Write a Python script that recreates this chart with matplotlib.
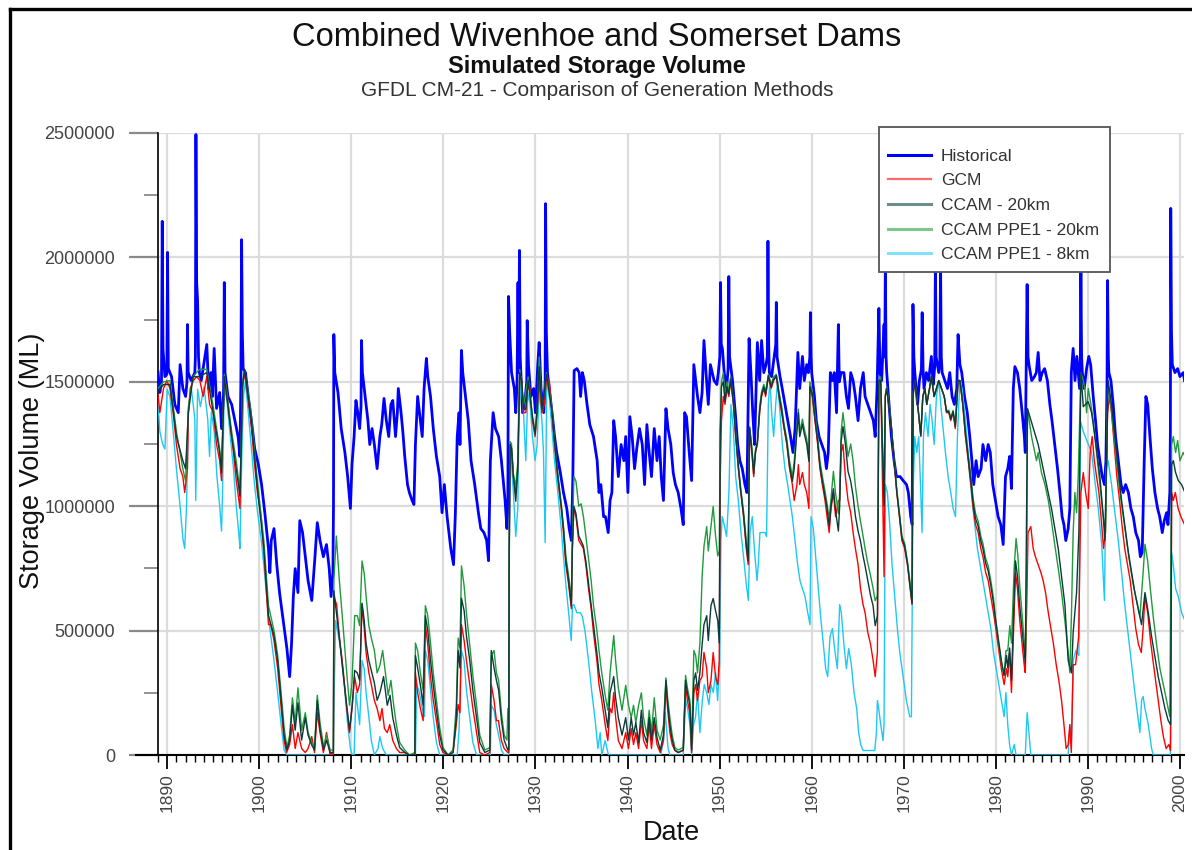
import numpy as np
import matplotlib
matplotlib.use("Agg")
import matplotlib.pyplot as plt
from matplotlib.lines import Line2D
from matplotlib.patches import Rectangle
from matplotlib.ticker import MultipleLocator, FuncFormatter

plt.rcParams['font.family'] = ['Liberation Sans', 'DejaVu Sans']

# ---------------- data (year, storage in thousand ML) ----------------
historical_pts = [
(1889.0,1540),(1889.2,1457),(1889.38,1500),(1889.46,2145),(1889.54,1634),(1889.75,1521),(1889.96,1530),(1890.04,2020),
(1890.12,1553),(1890.47,1521),(1890.83,1409),(1891.2,1376),(1891.4,1569),(1891.7,1473),(1892.0,1441),(1892.15,1500),
(1892.2,1730),(1892.28,1537),(1892.6,1505),(1893.0,1537),(1893.06,1600),(1893.12,2494),(1893.2,1900),(1893.3,1827),
(1893.4,1600),(1893.5,1537),(1893.7,1505),(1894.1,1602),(1894.3,1650),(1894.5,1473),(1894.75,1537),(1894.9,1441),
(1895.1,1634),(1895.36,1393),(1895.7,1457),(1895.9,1312),(1896.12,1450),(1896.2,1899),(1896.28,1537),(1896.6,1441),
(1897.0,1409),(1897.35,1344),(1897.7,1280),(1897.9,1200),(1898.0,1500),(1898.08,2071),(1898.16,1700),(1898.25,1553),
(1898.5,1537),(1898.8,1441),(1899.2,1328),(1899.5,1232),(1899.9,1167),(1900.25,1087),(1900.6,974),(1901.0,830),
(1901.15,733),(1901.3,862),(1901.6,910),(1901.9,765),(1902.2,653),(1902.6,540),(1903.0,428),(1903.3,315),
(1903.5,444),(1903.7,637),(1903.9,749),(1904.2,653),(1904.4,942),(1904.7,894),(1905.0,797),(1905.3,701),
(1905.7,621),(1906.05,797),(1906.3,934),(1906.6,862),(1906.96,797),(1907.3,846),(1907.6,749),(1907.8,637),
(1908.0,733),(1908.06,1000),(1908.1,1690),(1908.2,1537),(1908.55,1457),(1908.9,1312),(1909.3,1216),(1909.6,1119),
(1909.9,991),(1910.07,1167),(1910.3,1280),(1910.5,1425),(1910.7,1376),(1910.9,1312),(1911.05,1400),(1911.1,1666),
(1911.2,1537),(1911.5,1441),(1911.8,1344),(1912.0,1248),(1912.25,1312),(1912.5,1248),(1912.8,1151),(1913.1,1280),
(1913.3,1328),(1913.55,1433),(1913.8,1344),(1914.06,1280),(1914.3,1409),(1914.5,1425),(1914.8,1280),(1915.0,1376),
(1915.1,1473),(1915.4,1376),(1915.6,1296),(1915.8,1200),(1916.1,1087),(1916.3,1055),(1916.6,1023),(1916.8,1007),
(1916.96,1248),(1917.2,1441),(1917.4,1376),(1917.7,1280),(1917.9,1473),(1918.15,1594),(1918.3,1521),(1918.6,1441),
(1918.9,1312),(1919.24,1200),(1919.6,1119),(1919.85,974),(1920.1,1087),(1920.4,958),(1920.8,830),(1921.1,765),
(1921.3,974),(1921.5,1280),(1921.7,1376),(1921.8,1248),(1921.96,1626),(1922.1,1537),(1922.4,1441),(1922.7,1344),
(1923.0,1183),(1923.4,1087),(1923.8,974),(1924.06,910),(1924.4,894),(1924.7,862),(1924.9,781),(1925.1,1183),
(1925.4,1376),(1925.65,1312),(1926.0,1280),(1926.3,1183),(1926.7,1023),(1926.9,910),(1927.0,1000),(1927.07,1843),
(1927.2,1698),(1927.4,1537),(1927.7,1473),(1927.86,1376),(1928.0,1500),(1928.1,1899),(1928.18,1537),(1928.26,2028),
(1928.34,1600),(1928.6,1376),(1928.9,1441),(1929.05,1500),(1929.1,1746),(1929.24,1569),(1929.5,1441),(1929.8,1473),
(1930.0,1376),(1930.25,1569),(1930.4,1658),(1930.6,1473),(1930.9,1376),(1931.05,1500),(1931.1,2216),(1931.18,1700),
(1931.3,1537),(1931.5,1473),(1931.8,1376),(1932.07,1280),(1932.3,1216),(1932.7,1135),(1933.04,1055),(1933.4,991),
(1933.66,910),(1933.9,862),(1934.06,1119),(1934.2,1545),(1934.5,1553),(1934.75,1537),(1934.9,1441),(1935.1,1537),
(1935.3,1505),(1935.6,1409),(1935.9,1328),(1936.3,1280),(1936.7,1183),(1936.9,1055),(1937.1,1087),(1937.4,958),
(1937.6,958),(1937.9,894),(1938.1,1023),(1938.3,1055),(1938.5,1344),(1938.7,1280),(1939.0,1119),(1939.3,1248),
(1939.6,1183),(1939.8,1280),(1940.04,1055),(1940.25,1360),(1940.5,1280),(1940.76,1151),(1941.0,1232),(1941.3,1312),
(1941.6,1248),(1941.85,1087),(1942.1,1328),(1942.35,1216),(1942.6,1119),(1942.9,1312),(1943.2,1183),(1943.44,1280),
(1943.66,1119),(1943.9,1023),(1944.17,1392),(1944.4,1312),(1944.7,1248),(1944.96,1135),(1945.2,1087),(1945.5,1055),
(1945.8,991),(1946.05,926),(1946.2,1376),(1946.4,1360),(1946.7,1216),(1946.96,1103),(1947.2,1569),(1947.4,1505),
(1947.6,1441),(1947.86,1376),(1948.1,1457),(1948.3,1666),(1948.55,1521),(1948.77,1409),(1949.0,1569),(1949.2,1537),
(1949.4,1505),(1949.7,1489),(1949.86,1537),(1950.02,1600),(1950.1,1899),(1950.18,1650),(1950.3,1634),(1950.5,1537),
(1950.76,1473),(1950.92,1550),(1951.0,1923),(1951.08,1600),(1951.4,1505),(1951.7,1376),(1951.96,1248),(1952.2,1183),
(1952.46,1151),(1952.75,1087),(1952.97,1055),(1953.2,1674),(1953.4,1537),(1953.6,1376),(1953.8,1248),(1954.1,1658),
(1954.35,1505),(1954.56,1666),(1954.8,1537),(1955.04,1569),(1955.18,1600),(1955.25,2065),(1955.33,1650),(1955.4,1537),
(1955.65,1521),(1955.94,1602),(1956.1,1650),(1956.16,1819),(1956.24,1600),(1956.56,1521),(1956.8,1473),(1957.1,1409),
(1957.4,1344),(1957.7,1280),(1957.97,1216),(1958.2,1312),(1958.5,1618),(1958.7,1473),(1959.0,1602),(1959.2,1505),
(1959.46,1569),(1959.64,1537),(1959.8,1600),(1959.86,1778),(1959.94,1600),(1960.0,1537),(1960.3,1441),(1960.5,1344),
(1960.8,1280),(1961.1,1248),(1961.4,1216),(1961.6,1151),(1961.8,1216),(1962.03,1537),(1962.25,1505),(1962.46,1537),
(1962.7,1376),(1962.9,1730),(1963.0,1500),(1963.2,1537),(1963.5,1537),(1963.77,1441),(1964.0,1393),(1964.24,1537),
(1964.5,1505),(1964.75,1441),(1965.04,1344),(1965.3,1473),(1965.6,1537),(1965.8,1441),(1966.1,1409),(1966.4,1376),
(1966.7,1344),(1966.9,1280),(1967.1,1473),(1967.3,1795),(1967.42,1537),(1967.6,1505),(1967.86,1730),(1967.94,1600),
(1968.0,1971),(1968.08,1600),(1968.15,1537),(1968.4,1409),(1968.66,1280),(1968.95,1183),(1969.2,1119),(1969.6,1119),
(1969.93,1103),(1970.3,1087),(1970.5,1055),(1970.76,958),(1970.92,926),(1971.0,1811),(1971.1,1600),(1971.2,1537),
(1971.5,1409),(1971.7,1505),(1971.92,1550),(1972.0,1778),(1972.1,1550),(1972.2,1473),(1972.46,1537),(1972.7,1505),
(1973.0,1602),(1973.2,1489),(1973.36,1560),(1973.44,1971),(1973.52,1600),(1973.8,1537),(1973.92,1580),(1974.0,1971),
(1974.08,1600),(1974.17,1537),(1974.46,1505),(1974.75,1473),(1975.0,1537),(1975.25,1441),(1975.5,1409),(1975.76,1473),
(1975.9,1690),(1976.1,1569),(1976.3,1537),(1976.6,1441),(1976.9,1376),(1977.17,1280),(1977.4,1183),(1977.6,1087),
(1977.86,1183),(1978.08,1119),(1978.4,1151),(1978.6,1248),(1978.9,1183),(1979.17,1248),(1979.4,1216),(1979.67,1087),
(1979.96,1023),(1980.25,958),(1980.54,926),(1980.8,846),(1981.05,1119),(1981.3,1151),(1981.5,1200),(1981.7,1071),
(1981.9,1473),(1982.07,1561),(1982.35,1537),(1982.6,1473),(1982.86,1376),(1983.1,1280),(1983.2,1216),(1983.3,1537),
(1983.4,1891),(1983.5,1600),(1983.6,1569),(1983.9,1505),(1984.2,1521),(1984.4,1537),(1984.6,1618),(1984.8,1505),
(1985.04,1537),(1985.3,1553),(1985.6,1505),(1985.87,1409),(1986.1,1344),(1986.4,1248),(1986.7,1151),(1986.96,1055),
(1987.2,958),(1987.4,926),(1987.6,862),(1987.86,910),(1988.04,991),(1988.2,1537),(1988.4,1634),(1988.6,1505),
(1988.8,1602),(1988.95,1537),(1989.1,1473),(1989.18,1600),(1989.24,1939),(1989.32,1600),(1989.4,1537),(1989.6,1473),
(1989.86,1553),(1990.1,1602),(1990.3,1569),(1990.58,1441),(1990.83,1344),(1991.05,1248),(1991.3,1183),(1991.56,1119),
(1991.8,1087),(1991.96,1183),(1992.08,1500),(1992.14,1907),(1992.22,1600),(1992.28,1537),(1992.5,1505),(1992.75,1409),
(1993.0,1280),(1993.3,1183),(1993.6,1087),(1993.84,1055),(1994.1,1087),(1994.4,1055),(1994.67,991),(1994.93,958),
(1995.2,894),(1995.5,862),(1995.7,797),(1995.9,814),(1996.12,1183),(1996.3,1441),(1996.5,1409),(1996.74,1280),
(1997.0,1151),(1997.28,1055),(1997.57,991),(1997.8,958),(1998.08,894),(1998.3,942),(1998.55,974),(1998.7,926),
(1998.9,1055),(1998.96,1300),(1999.0,2197),(1999.08,1700),(1999.17,1569),(1999.46,1537),(1999.75,1553),(2000.0,1521),
(2000.36,1537),(2000.5,1505),
]

gcm_pts = [
(1889.0,1450),(1889.2,1376),(1889.6,1473),(1889.96,1505),(1890.3,1473),(1890.65,1376),(1891.0,1248),(1891.4,1151),
(1891.7,1119),(1891.9,1055),(1892.2,1151),(1892.3,1376),(1892.5,1473),(1892.85,1505),(1893.2,1521),(1893.55,1505),
(1893.9,1441),(1894.3,1521),(1894.6,1409),(1895.0,1376),(1895.36,1248),(1895.7,1183),(1895.9,1103),(1896.2,1521),
(1896.5,1457),(1896.8,1344),(1897.2,1216),(1897.5,1103),(1897.9,991),(1898.15,1473),(1898.4,1537),(1898.7,1457),
(1899.1,1344),(1899.45,1183),(1899.8,1055),(1900.2,958),(1900.5,814),(1901.0,524),(1901.25,524),(1901.6,460),
(1902.0,347),(1902.35,203),(1902.7,58),(1902.97,10),(1903.3,42),(1903.6,122),(1903.9,26),(1904.2,90),
(1904.6,26),(1905.0,10),(1905.3,26),(1905.7,74),(1906.0,10),(1906.3,170),(1906.6,90),(1906.96,10),
(1907.3,90),(1907.46,58),(1907.7,0),(1907.8,10),(1908.05,0),(1908.1,637),(1908.4,605),(1908.7,476),
(1909.1,347),(1909.46,203),(1909.8,90),(1910.07,187),(1910.36,315),(1910.65,251),(1910.9,283),(1911.16,605),
(1911.4,508),(1911.6,412),(1911.9,331),(1912.17,283),(1912.5,219),(1912.8,187),(1913.1,138),(1913.33,187),
(1913.6,106),(1913.9,90),(1914.17,122),(1914.5,58),(1914.9,26),(1915.25,10),(1915.8,10),(1916.3,0),
(1916.9,0),(1916.96,331),(1917.2,251),(1917.5,187),(1917.8,138),(1918.04,524),(1918.3,444),(1918.6,315),
(1918.9,219),(1919.24,138),(1919.6,42),(1919.96,10),(1920.5,0),(1921.05,10),(1921.4,122),(1921.6,203),
(1921.8,170),(1921.96,524),(1922.25,460),(1922.5,380),(1922.86,283),(1923.2,187),(1923.6,90),(1923.95,10),
(1924.5,0),(1925.04,10),(1925.2,283),(1925.5,219),(1925.76,138),(1925.98,138),(1926.3,58),(1926.6,26),
(1927.0,10),(1927.1,10),(1927.14,765),(1927.25,1248),(1927.4,1232),(1927.6,1119),(1927.86,1055),(1928.08,1151),
(1928.2,1441),(1928.3,1537),(1928.5,1505),(1928.7,1376),(1928.95,1376),(1929.2,1505),(1929.4,1473),(1929.67,1344),
(1929.96,1280),(1930.18,1376),(1930.4,1505),(1930.7,1376),(1930.98,1409),(1931.2,1521),(1931.5,1505),(1931.8,1376),
(1932.07,1248),(1932.4,1119),(1932.8,991),(1933.04,894),(1933.3,765),(1933.6,685),(1933.9,588),(1934.0,814),
(1934.17,991),(1934.4,958),(1934.7,862),(1934.96,846),(1935.2,830),(1935.47,765),(1935.76,669),(1936.05,588),
(1936.3,492),(1936.67,380),(1936.9,283),(1937.2,219),(1937.57,122),(1937.86,58),(1938.1,187),(1938.3,170),
(1938.5,251),(1938.7,154),(1939.0,58),(1939.4,26),(1939.8,90),(1940.1,26),(1940.4,106),(1940.65,42),
(1940.9,90),(1941.2,26),(1941.5,138),(1941.74,58),(1942.1,26),(1942.35,122),(1942.6,26),(1942.9,122),
(1943.2,42),(1943.55,10),(1943.9,58),(1944.17,283),(1944.35,187),(1944.6,90),(1944.85,42),(1945.14,18),
(1945.5,10),(1946.05,18),(1946.3,283),(1946.5,219),(1946.77,170),(1946.96,10),(1947.2,251),(1947.4,283),
(1947.6,219),(1947.86,299),(1948.1,315),(1948.3,412),(1948.6,347),(1948.77,251),(1949.06,299),(1949.3,412),
(1949.56,315),(1949.8,283),(1949.96,380),(1950.07,1119),(1950.2,1344),(1950.4,1441),(1950.58,1409),(1950.8,1473),
(1951.0,1441),(1951.2,1505),(1951.5,1409),(1951.74,1280),(1952.03,1151),(1952.3,1055),(1952.6,958),(1952.9,830),
(1953.1,765),(1953.26,1312),(1953.5,1216),(1953.7,1119),(1953.9,1216),(1954.1,1248),(1954.35,1376),(1954.56,1441),
(1954.8,1473),(1955.0,1441),(1955.3,1521),(1955.6,1473),(1955.87,1505),(1956.16,1521),(1956.45,1441),(1956.74,1376),
(1957.0,1312),(1957.3,1248),(1957.6,1151),(1957.9,1087),(1958.1,1023),(1958.4,1087),(1958.55,1167),(1958.7,1087),
(1959.0,1135),(1959.2,1087),(1959.46,1055),(1959.7,991),(1959.8,1473),(1960.07,1441),(1960.36,1344),(1960.65,1248),
(1960.9,1151),(1961.16,1087),(1961.45,1023),(1961.67,958),(1961.9,894),(1962.1,991),(1962.36,1055),(1962.6,958),
(1962.9,1023),(1963.04,1023),(1963.2,1216),(1963.4,1248),(1963.66,1119),(1963.95,1023),(1964.24,974),(1964.5,894),
(1964.75,830),(1965.04,765),(1965.3,669),(1965.58,605),(1965.8,572),(1966.1,492),(1966.4,444),(1966.67,380),
(1966.9,315),(1967.14,412),(1967.3,1505),(1967.5,1505),(1967.64,1216),(1967.86,717),(1968.0,1441),(1968.15,1473),
(1968.37,1409),(1968.66,1312),(1968.95,1183),(1969.24,1055),(1969.53,958),(1969.8,862),(1970.1,830),(1970.4,765),
(1970.7,669),(1970.9,605),(1971.0,1441),(1971.2,1505),(1971.4,1441),(1971.6,1376),(1971.85,1280),(1972.07,1441),
(1972.3,1473),(1972.5,1409),(1972.8,1473),(1973.0,1521),(1973.3,1441),(1973.55,1473),(1973.8,1505),(1974.1,1473),
(1974.4,1441),(1974.64,1376),(1974.9,1376),(1975.1,1344),(1975.36,1376),(1975.6,1312),(1975.9,1505),(1976.1,1505),
(1976.4,1409),(1976.7,1280),(1977.0,1183),(1977.3,1087),(1977.54,991),(1977.8,926),(1978.08,894),(1978.37,830),
(1978.6,797),(1978.9,733),(1979.17,701),(1979.46,637),(1979.75,572),(1980.0,508),(1980.3,428),(1980.6,347),
(1980.9,283),(1981.16,347),(1981.3,315),(1981.5,412),(1981.7,251),(1982.0,572),(1982.14,733),(1982.35,669),
(1982.6,540),(1982.86,444),(1983.08,363),(1983.2,331),(1983.36,605),(1983.5,894),(1983.8,918),(1984.06,830),
(1984.3,797),(1984.6,765),(1984.9,733),(1985.14,701),(1985.4,653),(1985.7,572),(1985.98,508),(1986.27,444),
(1986.56,363),(1986.85,299),(1987.14,219),(1987.4,122),(1987.64,26),(1987.86,42),(1988.04,122),(1988.2,10),
(1988.4,363),(1988.66,363),(1989.0,476),(1989.24,1055),(1989.5,1135),(1989.75,1055),(1990.04,991),(1990.25,1216),
(1990.47,1280),(1990.7,1183),(1990.94,1119),(1991.2,1055),(1991.5,926),(1991.7,830),(1991.9,894),(1992.14,1376),
(1992.36,1441),(1992.57,1376),(1992.86,1248),(1993.15,1119),(1993.44,1023),(1993.7,926),(1994.0,830),(1994.3,765),
(1994.6,701),(1994.9,605),(1995.2,508),(1995.5,444),(1995.8,412),(1996.0,508),(1996.2,637),(1996.5,572),
(1996.8,460),(1997.07,380),(1997.36,299),(1997.65,219),(1997.93,138),(1998.2,74),(1998.5,26),(1998.8,42),
(1998.98,18),(1999.1,1055),(1999.27,1023),(1999.5,1055),(1999.8,991),(2000.1,958),(2000.5,926),
]

ccam20_pts = [
(1889.0,1460),(1889.6,1489),(1890.3,1489),(1891.0,1280),(1891.7,1183),(1892.0,1150),(1892.3,1376),(1892.8,1521),
(1893.5,1521),(1894.3,1537),(1895.0,1376),(1895.7,1215),(1895.9,1135),(1896.2,1521),(1897.0,1280),(1897.5,1151),
(1897.9,1040),(1898.2,1489),(1898.4,1550),(1899.1,1360),(1899.8,1071),(1900.5,830),(1901.0,560),(1901.6,480),
(1902.0,380),(1902.35,230),(1902.7,80),(1903.0,20),(1903.3,60),(1903.6,200),(1903.9,100),(1904.2,210),
(1904.6,60),(1905.0,150),(1905.3,80),(1905.7,40),(1906.0,20),(1906.3,220),(1906.6,100),(1907.0,20),
(1907.3,60),(1907.7,10),(1908.05,10),(1908.1,660),(1908.7,470),(1909.1,330),(1909.5,200),(1909.8,100),
(1910.1,200),(1910.36,340),(1910.65,330),(1910.9,300),(1911.16,610),(1911.4,540),(1911.6,450),(1911.9,380),
(1912.17,340),(1912.5,290),(1912.8,220),(1913.1,250),(1913.5,315),(1913.9,200),(1914.2,240),(1914.5,150),
(1914.9,80),(1915.25,30),(1915.8,10),(1916.3,0),(1916.9,0),(1916.96,400),(1917.2,350),(1917.5,280),
(1917.8,200),(1918.04,560),(1918.3,500),(1918.6,380),(1918.9,280),(1919.24,180),(1919.6,80),(1919.96,20),
(1920.5,0),(1921.05,10),(1921.4,150),(1921.6,420),(1921.8,350),(1921.96,630),(1922.25,580),(1922.5,480),
(1922.86,380),(1923.2,260),(1923.6,150),(1923.95,50),(1924.5,10),(1925.04,20),(1925.2,420),(1925.5,350),
(1925.76,300),(1926.0,260),(1926.3,140),(1926.6,60),(1927.0,20),(1927.1,20),(1927.14,800),(1927.25,1248),
(1927.4,1232),(1927.6,1119),(1927.86,1020),(1928.08,1151),(1928.3,1537),(1928.5,1505),(1928.7,1390),(1928.95,1390),
(1929.2,1505),(1929.67,1360),(1929.96,1290),(1930.18,1390),(1930.4,1560),(1930.7,1390),(1931.2,1530),(1931.8,1380),
(1932.07,1260),(1932.4,1130),(1932.8,1000),(1933.04,910),(1933.3,780),(1933.6,700),(1933.9,600),(1934.0,830),
(1934.17,1000),(1934.4,970),(1934.7,880),(1934.96,860),(1935.2,840),(1935.47,780),(1935.76,690),(1936.05,600),
(1936.3,520),(1936.67,410),(1936.9,330),(1937.2,270),(1937.57,180),(1937.86,110),(1938.1,250),(1938.5,315),
(1938.7,230),(1939.0,150),(1939.4,80),(1939.8,150),(1940.1,60),(1940.4,150),(1940.65,80),(1940.9,130),
(1941.2,50),(1941.5,180),(1941.74,90),(1942.1,50),(1942.35,150),(1942.6,60),(1942.9,150),(1943.2,70),
(1943.55,20),(1943.9,80),(1944.17,300),(1944.35,210),(1944.6,120),(1944.85,60),(1945.14,20),(1945.5,10),
(1946.05,20),(1946.3,300),(1946.5,250),(1946.77,200),(1946.96,20),(1947.2,300),(1947.4,330),(1947.6,260),
(1947.86,330),(1948.1,444),(1948.3,524),(1948.6,560),(1948.77,460),(1949.06,600),(1949.3,629),(1949.56,580),
(1949.8,540),(1949.96,450),(1950.07,1300),(1950.2,1480),(1950.4,1500),(1950.58,1420),(1950.8,1480),(1951.0,1450),
(1951.2,1510),(1951.5,1415),(1951.74,1290),(1952.03,1160),(1952.3,1060),(1952.6,965),(1952.9,840),(1953.1,780),
(1953.26,1315),(1953.5,1225),(1953.7,1130),(1953.9,1220),(1954.1,1255),(1954.35,1385),(1954.56,1450),(1954.8,1480),
(1955.0,1450),(1955.3,1525),(1955.6,1480),(1955.87,1510),(1956.16,1525),(1956.45,1450),(1956.74,1385),(1957.0,1320),
(1957.3,1255),(1957.6,1160),(1957.9,1100),(1958.1,1150),(1958.4,1300),(1958.55,1376),(1958.7,1280),(1959.0,1330),
(1959.2,1290),(1959.46,1250),(1959.7,1180),(1959.8,1480),(1960.07,1450),(1960.36,1350),(1960.65,1260),(1960.9,1160),
(1961.16,1100),(1961.45,1040),(1961.67,990),(1961.9,920),(1962.1,1000),(1962.36,1070),(1962.6,980),(1962.9,900),
(1963.04,1000),(1963.2,1260),(1963.4,1320),(1963.66,1250),(1963.95,1140),(1964.24,1100),(1964.5,1040),(1964.75,960),
(1965.04,900),(1965.3,860),(1965.58,800),(1965.8,760),(1966.1,700),(1966.4,640),(1966.67,600),(1966.9,520),
(1967.14,560),(1967.3,1505),(1967.5,1505),(1967.64,1300),(1967.86,1000),(1968.0,1441),(1968.15,1473),(1968.37,1409),
(1968.66,1315),(1968.95,1190),(1969.24,1060),(1969.53,965),(1969.8,870),(1970.1,840),(1970.4,770),(1970.7,675),
(1970.9,610),(1971.0,1441),(1971.2,1505),(1971.4,1441),(1971.6,1376),(1971.85,1285),(1972.07,1441),(1972.3,1473),
(1972.5,1409),(1972.8,1473),(1973.0,1521),(1973.3,1441),(1973.55,1473),(1973.8,1505),(1974.1,1473),(1974.4,1441),
(1974.64,1380),(1974.9,1380),(1975.1,1350),(1975.36,1380),(1975.6,1320),(1975.9,1505),(1976.1,1505),(1976.4,1415),
(1976.7,1290),(1977.0,1195),(1977.3,1100),(1977.54,1010),(1977.8,950),(1978.08,920),(1978.37,860),(1978.6,830),
(1978.9,770),(1979.17,740),(1979.46,680),(1979.75,610),(1980.0,540),(1980.3,460),(1980.6,380),(1980.9,320),
(1981.16,400),(1981.3,350),(1981.5,430),(1981.7,300),(1982.0,640),(1982.14,780),(1982.35,720),(1982.6,600),
(1982.86,500),(1983.08,420),(1983.2,370),(1983.44,1392),(1984.6,1248),(1985.33,1119),(1986.05,990),(1986.78,830),
(1987.5,605),(1987.86,380),(1988.22,330),(1988.4,492),(1988.77,653),(1989.02,894),(1989.24,1537),(1989.5,1400),
(1990.04,1420),(1990.4,1376),(1990.76,1280),(1991.3,1120),(1991.67,958),(1991.85,862),(1992.2,1505),(1992.57,1409),
(1992.93,1280),(1993.3,1151),(1993.66,1023),(1994.0,926),(1994.4,814),(1994.75,733),(1995.1,653),(1995.47,588),
(1995.83,524),(1996.2,653),(1996.56,572),(1996.92,476),(1997.28,396),(1997.64,315),(1998.0,251),(1998.37,187),
(1998.73,138),(1998.99,122),(1999.1,1167),(1999.28,1183),(1999.53,1135),(1999.82,1103),(2000.18,1087),(2000.54,1055),
]

ppe1_20_pts = [
(1889.0,1473),(1889.6,1500),(1890.3,1505),(1891.0,1300),(1891.7,1150),(1892.0,1100),(1892.3,1400),(1892.8,1521),
(1893.5,1550),(1894.3,1550),(1895.0,1400),(1895.7,1230),(1895.9,1150),(1896.2,1530),(1897.0,1300),(1897.5,1180),
(1897.9,1060),(1898.2,1500),(1898.4,1550),(1899.1,1380),(1899.8,1100),(1900.5,860),(1901.0,600),(1901.6,500),
(1902.0,400),(1902.35,260),(1902.7,110),(1903.0,30),(1903.3,80),(1903.6,230),(1903.9,130),(1904.2,270),
(1904.6,100),(1905.0,170),(1905.3,90),(1905.7,50),(1906.0,30),(1906.3,240),(1906.6,130),(1907.0,30),
(1907.3,80),(1907.7,20),(1908.05,20),(1908.1,700),(1908.37,880),(1908.7,700),(1909.1,520),(1909.5,330),
(1909.8,200),(1910.07,290),(1910.36,560),(1910.65,560),(1910.9,520),(1911.16,780),(1911.4,730),(1911.6,640),
(1911.9,520),(1912.17,470),(1912.5,420),(1912.8,330),(1913.1,360),(1913.4,420),(1913.7,330),(1914.0,240),
(1914.3,300),(1914.6,200),(1914.9,120),(1915.25,50),(1915.8,20),(1916.3,0),(1916.9,10),(1916.96,450),
(1917.2,420),(1917.5,330),(1917.8,260),(1918.04,600),(1918.3,560),(1918.6,450),(1918.9,330),(1919.24,220),
(1919.6,110),(1919.96,30),(1920.5,0),(1921.05,20),(1921.4,200),(1921.6,470),(1921.8,430),(1921.96,760),
(1922.25,680),(1922.5,570),(1922.86,440),(1923.2,320),(1923.6,200),(1923.95,80),(1924.5,20),(1925.04,30),
(1925.2,400),(1925.5,420),(1925.76,330),(1926.0,300),(1926.3,170),(1926.6,80),(1926.9,60),(1927.0,187),
(1927.1,100),(1927.14,850),(1927.25,1260),(1927.4,1250),(1927.6,1130),(1927.86,1080),(1928.08,1180),(1928.3,1550),
(1928.7,1400),(1929.2,1520),(1929.67,1360),(1929.96,1290),(1930.18,1390),(1930.4,1600),(1930.7,1390),(1931.2,1537),
(1931.8,1390),(1932.07,1260),(1932.4,1140),(1932.8,1010),(1933.04,920),(1933.3,800),(1933.6,720),(1933.9,630),
(1934.0,860),(1934.17,1120),(1934.4,1100),(1934.7,1000),(1934.96,1010),(1935.2,960),(1935.47,880),(1935.76,790),
(1936.05,700),(1936.3,600),(1936.67,500),(1936.9,420),(1937.2,330),(1937.57,240),(1937.86,180),(1938.1,330),
(1938.5,480),(1938.7,380),(1939.0,270),(1939.4,180),(1939.8,280),(1940.1,200),(1940.4,150),(1940.65,200),
(1940.9,130),(1941.2,200),(1941.5,250),(1941.74,150),(1942.1,80),(1942.35,180),(1942.6,90),(1942.9,230),
(1943.2,100),(1943.55,60),(1943.9,120),(1944.17,310),(1944.35,230),(1944.6,150),(1944.85,80),(1945.14,30),
(1945.5,20),(1946.05,30),(1946.3,320),(1946.5,270),(1946.77,220),(1946.96,40),(1947.2,420),(1947.4,400),
(1947.6,330),(1947.86,450),(1948.1,717),(1948.3,838),(1948.6,918),(1948.77,820),(1949.06,920),(1949.3,999),
(1949.56,880),(1949.8,800),(1949.96,820),(1950.07,1300),(1950.2,1500),(1950.4,1537),(1950.58,1440),(1950.8,1500),
(1951.0,1460),(1951.2,1520),(1951.5,1420),(1951.74,1300),(1952.03,1170),(1952.3,1070),(1952.6,980),(1952.9,860),
(1953.1,800),(1953.26,1320),(1953.5,1240),(1953.7,1150),(1953.9,1230),(1954.1,1260),(1954.35,1400),(1954.56,1460),
(1954.8,1490),(1955.0,1460),(1955.3,1530),(1955.6,1490),(1955.87,1520),(1956.16,1530),(1956.45,1460),(1956.74,1400),
(1957.0,1330),(1957.3,1270),(1957.6,1180),(1957.9,1120),(1958.1,1180),(1958.4,1320),(1958.55,1390),(1958.7,1300),
(1959.0,1350),(1959.2,1310),(1959.46,1270),(1959.7,1200),(1959.8,1500),(1960.07,1460),(1960.36,1370),(1960.65,1280),
(1960.9,1180),(1961.16,1120),(1961.45,1060),(1961.67,1010),(1961.9,950),(1962.1,1030),(1962.36,1140),(1962.6,1050),
(1962.9,970),(1963.04,1050),(1963.2,1300),(1963.4,1376),(1963.66,1290),(1963.95,1200),(1964.24,1250),(1964.5,1180),
(1964.75,1080),(1965.04,1000),(1965.3,940),(1965.58,880),(1965.8,830),(1966.1,770),(1966.4,720),(1966.67,670),
(1966.9,620),(1967.14,640),(1967.3,1505),(1967.5,1520),(1967.64,1320),(1967.86,1050),(1968.0,1450),(1968.15,1480),
(1968.37,1420),(1968.66,1320),(1968.95,1190),(1969.24,1070),(1969.53,970),(1969.8,880),(1970.1,850),(1970.4,780),
(1970.7,690),(1970.9,620),(1971.0,1450),(1971.2,1505),(1971.4,1441),(1971.6,1376),(1971.85,1285),(1972.07,1441),
(1972.3,1473),(1972.5,1409),(1972.8,1473),(1973.0,1521),(1973.3,1441),(1973.55,1473),(1973.8,1505),(1974.1,1473),
(1974.4,1441),(1974.64,1385),(1974.9,1385),(1975.1,1355),(1975.36,1385),(1975.6,1325),(1975.9,1505),(1976.1,1505),
(1976.4,1420),(1976.7,1300),(1977.0,1210),(1977.3,1120),(1977.54,1030),(1977.8,970),(1978.08,940),(1978.37,880),
(1978.6,850),(1978.9,790),(1979.17,760),(1979.46,700),(1979.75,630),(1980.0,530),(1980.3,450),(1980.6,370),
(1980.9,320),(1981.1,420),(1981.3,420),(1981.52,520),(1981.7,450),(1981.99,750),(1982.2,870),(1982.4,800),
(1982.6,680),(1982.86,560),(1983.08,460),(1983.22,400),(1983.37,800),(1983.44,1390),(1983.88,1280),(1984.42,1183),
(1984.6,1216),(1984.96,1135),(1985.33,1087),(1985.7,1023),(1986.05,940),(1986.4,846),(1986.78,750),(1987.14,653),
(1987.5,540),(1987.86,412),(1988.04,331),(1988.22,572),(1988.4,894),(1988.59,1055),(1988.77,974),(1988.95,1119),
(1989.13,1376),(1989.24,1537),(1989.5,1505),(1989.67,1473),(1989.86,1376),(1990.04,1473),(1990.33,1409),(1990.58,1344),
(1990.94,1216),(1991.3,1087),(1991.67,958),(1991.92,894),(1992.14,1473),(1992.4,1441),(1992.75,1312),(1993.12,1183),
(1993.48,1055),(1993.84,958),(1994.2,862),(1994.57,765),(1994.93,685),(1995.29,621),(1995.65,556),(1996.0,733),
(1996.2,847),(1996.49,781),(1996.78,669),(1997.1,556),(1997.46,444),(1997.83,347),(1998.19,283),(1998.55,219),
(1998.9,154),(1999.1,1248),(1999.28,1280),(1999.53,1216),(1999.75,1264),(2000.0,1183),(2000.36,1216),(2000.54,1200),
]

ppe1_8_pts = [
(1889.0,1420),(1889.2,1300),(1889.5,1250),(1889.75,1230),(1890.0,1470),(1890.3,1440),(1890.65,1300),(1891.0,1150),
(1891.4,1000),(1891.7,870),(1891.9,830),(1892.1,1000),(1892.3,1380),(1892.6,1480),(1893.0,1350),(1893.1,1023),
(1893.3,1470),(1893.6,1400),(1894.0,1480),(1894.4,1350),(1894.6,1200),(1894.8,1380),(1895.1,1300),(1895.4,1120),
(1895.7,1000),(1895.9,900),(1896.0,1040),(1896.2,1480),(1896.5,1420),(1896.8,1300),(1897.2,1150),(1897.5,1000),
(1897.8,880),(1897.9,830),(1898.1,1200),(1898.3,1450),(1898.5,1500),(1898.8,1380),(1899.1,1250),(1899.45,1100),
(1899.8,980),(1900.2,870),(1900.5,760),(1900.8,640),(1901.0,560),(1901.25,480),(1901.6,380),(1902.0,250),
(1902.35,130),(1902.7,20),(1903.0,0),(1908.05,0),(1908.1,187),(1908.3,540),(1908.5,500),(1908.9,412),
(1909.3,251),(1909.6,122),(1909.9,26),(1910.1,0),(1910.3,0),(1910.5,251),(1910.9,122),(1911.16,380),
(1911.4,347),(1911.6,251),(1911.9,154),(1912.17,58),(1912.5,0),(1912.9,26),(1913.1,74),(1913.4,26),
(1913.8,0),(1916.96,0),(1917.1,283),(1917.4,251),(1917.7,187),(1917.95,154),(1918.04,420),(1918.3,380),
(1918.6,260),(1918.9,150),(1919.24,50),(1919.6,0),(1921.5,0),(1921.7,100),(1921.96,420),(1922.25,380),
(1922.5,260),(1922.86,150),(1923.2,50),(1923.6,0),(1925.1,0),(1925.2,200),(1925.5,180),(1925.76,120),
(1926.0,80),(1926.3,20),(1926.6,0),(1927.1,0),(1927.14,700),(1927.25,1248),(1927.6,1055),(1927.86,878),
(1928.08,991),(1928.22,1376),(1928.44,1521),(1928.7,1376),(1928.95,1183),(1929.17,1457),(1929.42,1409),(1929.67,1280),
(1929.96,1183),(1930.18,1248),(1930.4,1473),(1930.7,1344),(1930.87,1216),(1931.05,854),(1931.23,1505),(1931.5,1441),
(1931.78,1312),(1932.07,1183),(1932.43,1055),(1932.8,910),(1933.04,797),(1933.3,685),(1933.6,572),(1933.88,460),
(1934.02,600),(1934.17,605),(1934.5,572),(1934.86,572),(1935.1,556),(1935.4,492),(1935.76,380),(1936.12,251),
(1936.49,138),(1936.78,26),(1937.03,90),(1937.2,0),(1937.57,58),(1937.93,0),(1943.6,0),(1943.9,58),
(1944.1,170),(1944.4,26),(1944.6,0),(1946.05,0),(1946.3,219),(1946.52,187),(1946.78,122),(1946.96,0),
(1947.17,122),(1947.39,154),(1947.6,251),(1947.86,90),(1948.12,219),(1948.33,283),(1948.59,251),(1948.84,203),
(1949.06,283),(1949.31,251),(1949.57,331),(1949.78,219),(1950.0,363),(1950.14,862),(1950.29,958),(1950.5,926),
(1950.76,878),(1951.01,1055),(1951.23,1409),(1951.49,1312),(1951.74,1119),(1952.03,1023),(1952.32,894),(1952.6,797),
(1952.9,685),(1953.12,621),(1953.3,894),(1953.55,958),(1953.77,830),(1954.06,701),(1954.2,765),(1954.38,894),
(1954.64,894),(1954.93,894),(1955.1,878),(1955.29,1409),(1955.47,1505),(1955.65,1376),(1955.87,1280),(1956.09,1409),
(1956.3,1505),(1956.56,1376),(1956.81,1248),(1957.1,1151),(1957.39,1087),(1957.64,1023),(1957.9,958),(1958.19,862),
(1958.48,765),(1958.73,701),(1958.99,669),(1959.28,637),(1959.57,572),(1959.82,524),(1959.93,958),(1960.18,910),
(1960.43,797),(1960.72,669),(1961.01,540),(1961.27,444),(1961.52,347),(1961.74,315),(1961.99,476),(1962.25,508),
(1962.54,412),(1962.79,347),(1963.04,605),(1963.22,572),(1963.5,444),(1963.77,347),(1964.02,428),(1964.31,363),
(1964.6,251),(1964.89,187),(1965.1,90),(1965.33,42),(1965.58,18),(1966.85,18),(1967.03,90),(1967.14,219),
(1967.28,187),(1967.5,122),(1967.75,58),(1967.86,122),(1968.0,1087),(1968.22,1055),(1968.48,926),(1968.73,765),
(1969.02,637),(1969.31,508),(1969.57,412),(1969.93,315),(1970.29,219),(1970.65,154),(1970.83,154),(1971.01,1055),
(1971.2,1280),(1971.41,1216),(1971.63,1280),(1971.85,1055),(1971.99,894),(1972.14,1280),(1972.36,1376),(1972.64,1280),
(1972.86,1409),(1973.08,1344),(1973.3,1248),(1973.55,1441),(1973.8,1505),(1974.02,1409),(1974.28,1312),(1974.53,1216),
(1974.82,1119),(1975.11,1055),(1975.36,991),(1975.62,958),(1975.83,1280),(1976.09,1505),(1976.34,1473),(1976.63,1376),
(1976.92,1248),(1977.17,1119),(1977.43,1023),(1977.72,926),(1978.0,830),(1978.3,765),(1978.59,701),(1978.88,637),
(1979.17,572),(1979.46,508),(1979.75,412),(1980.04,347),(1980.33,283),(1980.62,219),(1980.9,154),(1981.1,251),
(1981.3,120),(1981.5,40),(1981.7,0),(1982.0,42),(1982.2,0),(1983.2,0),(1983.4,170),(1983.6,90),
(1983.8,0),(1987.86,0),(1988.04,122),(1988.22,60),(1988.4,380),(1988.7,420),(1989.02,400),(1989.2,1341),
(1989.5,1300),(1990.04,1250),(1990.4,1216),(1990.76,1103),(1991.13,991),(1991.5,846),(1991.8,621),(1991.98,1150),
(1992.2,1183),(1992.57,1087),(1992.93,974),(1993.3,862),(1993.66,733),(1994.0,605),(1994.4,476),(1994.75,363),
(1995.1,251),(1995.38,170),(1995.65,90),(1995.83,219),(1996.0,235),(1996.2,187),(1996.56,122),(1996.92,26),
(1997.1,0),(1998.95,0),(1999.1,814),(1999.28,765),(1999.53,669),(1999.82,637),(2000.18,572),(2000.54,540),
]

series_labels = ["Historical", "GCM", "CCAM - 20km", "CCAM PPE1 - 20km", "CCAM PPE1 - 8km"]
x_tick_years = list(range(1890, 2001, 10))
y_tick_values = [0, 500000, 1000000, 1500000, 2000000, 2500000]

def unpack(pts):
    a = np.array(pts, dtype=float)
    return a[:, 0], a[:, 1] * 1000.0   # thousand ML -> ML

# ---------------- figure ----------------
W, H = 1192, 850
fig = plt.figure(figsize=(W / 100, H / 100), dpi=100)
fig.patch.set_facecolor("white")
ax = fig.add_axes([158 / W, (H - 755) / H, (1184 - 158) / W, (755 - 133) / H])

c_hist, c_gcm, c_c20, c_p20, c_p8 = "#0000ff", "#ff0000", "#0c3a3a", "#1f9a3c", "#1ec8f4"

x, y = unpack(historical_pts)
ax.plot(x, y, color=c_hist, lw=2.0, zorder=3)
x, y = unpack(ppe1_8_pts)
ax.plot(x, y, color=c_p8, lw=1.0, zorder=4)
x, y = unpack(gcm_pts)
ax.plot(x, y, color=c_gcm, lw=1.0, zorder=5)
x, y = unpack(ppe1_20_pts)
ax.plot(x, y, color=c_p20, lw=1.0, zorder=6)
x, y = unpack(ccam20_pts)
ax.plot(x, y, color=c_c20, lw=1.0, zorder=7)

ax.set_xlim(1889.0, 2000.44)
ax.set_ylim(0, 2500000)

ax.set_xticks(x_tick_years)
ax.xaxis.set_minor_locator(MultipleLocator(1))
ax.set_yticks(y_tick_values)
ax.yaxis.set_minor_locator(MultipleLocator(250000))
ax.yaxis.set_major_formatter(FuncFormatter(lambda v, p: "%d" % v))

ax.grid(which="major", color="#dcdcdc", lw=1.6, zorder=0)
ax.set_axisbelow(True)

for s in ("top", "right"):
    ax.spines[s].set_visible(False)
ax.spines["left"].set_color("black")
ax.spines["left"].set_linewidth(1.2)
ax.spines["bottom"].set_color("black")
ax.spines["bottom"].set_linewidth(1.5)
ax.plot([-0.021, 0], [0, 0], transform=ax.transAxes, color="black", lw=1.5, clip_on=False, zorder=8)

ax.tick_params(axis="x", which="major", length=10, width=1.3, color="black",
               labelrotation=90, labelsize=12.5, labelcolor="#444444", pad=3)
ax.tick_params(axis="x", which="minor", length=5, width=1.0, color="black")
ax.tick_params(axis="y", which="major", length=21, width=1.6, color="#8a8a8a",
               labelsize=13, labelcolor="#444444", pad=10)
ax.tick_params(axis="y", which="minor", length=10, width=1.3, color="#8a8a8a")

# titles
fig.text(597 / W, 1 - 37 / H, "Combined Wivenhoe and Somerset Dams", ha="center", va="center",
         fontsize=23.5, color="#111111")
fig.text(597 / W, 1 - 66 / H, "Simulated Storage Volume", ha="center", va="center",
         fontsize=17, fontweight="bold", color="#111111")
fig.text(597 / W, 1 - 90 / H, "GFDL CM-21 - Comparison of Generation Methods", ha="center", va="center",
         fontsize=15, color="#333333")
fig.text(32 / W, 1 - 461 / H, "Storage Volume (ML)", rotation=90, ha="center", va="center",
         fontsize=19.5, color="#111111")
fig.text(671 / W, 1 - 833 / H, "Date", ha="center", va="center", fontsize=19.5, color="#111111")

# legend frame (drawn explicitly) and entries
fig.add_artist(Rectangle((879 / W, 1 - 272 / H), (1110 - 879) / W, (272 - 127) / H,
                         transform=fig.transFigure, facecolor="white", edgecolor="#555555",
                         lw=1.3, zorder=9))
handles = [
    Line2D([], [], color=c_hist, lw=2.2),
    Line2D([], [], color="#ff6a6a", lw=1.6),
    Line2D([], [], color="#6d8d8d", lw=2.2),
    Line2D([], [], color="#7cc88c", lw=2.2),
    Line2D([], [], color="#7fe0ff", lw=2.2),
]
leg = fig.legend(handles, series_labels, loc="upper left",
                 bbox_to_anchor=(888 / W, 1 - 148.5 / H), bbox_transform=fig.transFigure,
                 fontsize=12.5, frameon=False, handlelength=2.5, handletextpad=0.55,
                 labelspacing=0.55, borderpad=0, borderaxespad=0)
leg.set_zorder(10)
for t in leg.get_texts():
    t.set_color("#333333")

# figure border (left and top)
fig.add_artist(Line2D([10 / W, 10 / W], [0, 1 - 9 / H], color="black", lw=2.4, transform=fig.transFigure))
fig.add_artist(Line2D([10 / W, 1], [1 - 9 / H, 1 - 9 / H], color="black", lw=2.4, transform=fig.transFigure))

fig.savefig("out.png", dpi=100, facecolor="white")
